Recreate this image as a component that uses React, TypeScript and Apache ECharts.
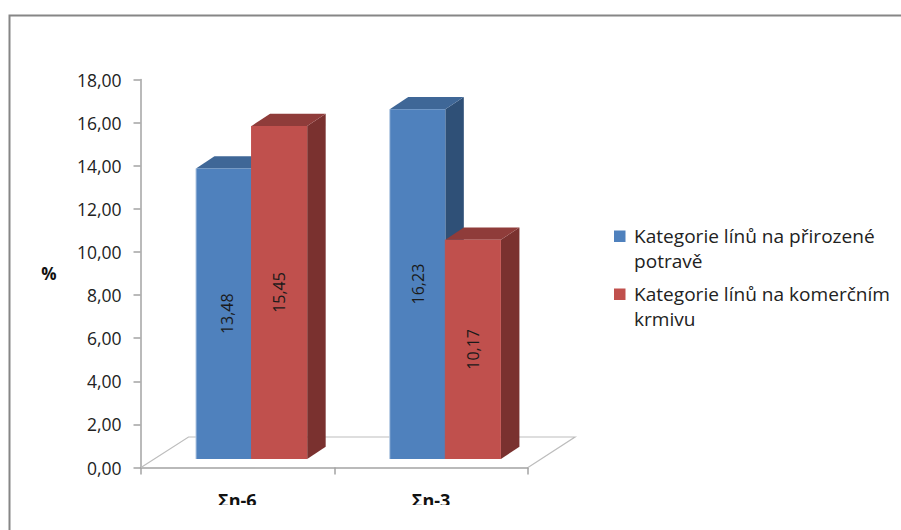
import React, { useEffect, useRef } from "react";
import * as echarts from "echarts";

const categories = ["Σn-6", "Σn-3"];
const seriesNames = ["Kategorie línů na přirozené potravě", "Kategorie línů na komerčním krmivu"];
const naturalFeed = [13.48, 16.23];
const commercialFeed = [15.45, 10.17];
const yTicks = { min: 0, max: 18, interval: 2 };

const FONT = "'Open Sans'";

const palette = [
  { front: "#4F81BD", top: "#3F6797", side: "#2F5077", edge: "#B9CDE5" },
  { front: "#C0504D", top: "#8F3C3A", side: "#7A312F", edge: "#C0504D" },
];

const legendRows = [
  { series: 0, lines: ["Kategorie línů na přirozené", "potravě"], y: 236 },
  { series: 1, lines: ["Kategorie línů na komerčním", "krmivu"], y: 294 },
];

const comma = (v: number) => v.toFixed(2).replace(".", ",");

// Extruded column: the front face sits above and to the right of the axis plane.
const column = (seriesIndex: number) => (params: any, api: any) => {
  const p = api.coord([api.value(0), api.value(1)]);
  const w = 55.6;
  const x0 = p[0] + 14.2 - w + seriesIndex * w;
  const x1 = x0 + w;
  const lift = 8.5;
  const top = p[1] - lift;
  const base = api.coord([api.value(0), 0])[1] - lift;
  const dx = 18.5;
  const dy = 12.2;
  const c = palette[seriesIndex];
  // The first column's label sits a little right of its face centre.
  const labelNudge = seriesIndex === 0 && params.dataIndex === 0 ? 3.5 : 0;
  return {
    type: "group",
    children: [
      {
        type: "polygon",
        shape: { points: [[x1, base], [x1 + dx, base - dy], [x1 + dx, top - dy], [x1, top]] },
        style: { fill: c.side },
      },
      {
        type: "polygon",
        shape: { points: [[x0, top], [x0 + dx, top - dy], [x1 + dx, top - dy], [x1, top]] },
        style: { fill: c.top },
      },
      {
        type: "rect",
        shape: { x: x0, y: top, width: w, height: base - top },
        style: { fill: c.front },
      },
      {
        type: "line",
        shape: { x1: x0, y1: top, x2: x0, y2: base },
        style: { stroke: c.edge, lineWidth: 1 },
      },
      {
        type: "text",
        x: (x0 + x1) / 2 + labelNudge,
        y: (top + base) / 2,
        rotation: Math.PI / 2,
        style: {
          text: comma(api.value(1)),
          align: "center",
          verticalAlign: "middle",
          fill: "#1a1a1a",
          font: `16px ${FONT}`,
        },
      },
    ],
  };
};

const toPoints = (values: number[]) => values.map((v, i) => [i, v]);

export default function App() {
  const ref = useRef<HTMLDivElement>(null);

  useEffect(() => {
    const chart = echarts.init(ref.current!, undefined, { renderer: "svg" });
    const axisGrey = "#A3A3A3";
    const legendGraphics = legendRows.flatMap((row) => [
      {
        type: "rect",
        z: 5,
        shape: { x: 614, y: row.y - 5.5, width: 11.5, height: 11.5 },
        style: { fill: palette[row.series].front },
      },
      ...row.lines.map((line, i) => ({
        type: "text",
        z: 5,
        x: 634,
        y: row.y + i * 24.5,
        scaleX: 1.09,
        style: {
          text: line,
          fill: "#222222",
          font: `17.5px ${FONT}`,
          verticalAlign: "middle",
        },
      })),
    ]);

    chart.setOption({
      animation: false,
      backgroundColor: "#ffffff",
      grid: { left: 140.5, width: 387.5, top: 79.5, height: 388 },
      xAxis: {
        type: "category",
        data: categories,
        axisLine: { lineStyle: { color: axisGrey, width: 1.5 } },
        axisTick: { show: true, length: 7, alignWithLabel: false, lineStyle: { color: axisGrey, width: 1.5 } },
        axisLabel: {
          color: "#111111",
          fontFamily: FONT,
          fontSize: 18,
          fontWeight: "bold",
          margin: 23,
        },
      },
      yAxis: {
        type: "value",
        min: yTicks.min,
        max: yTicks.max,
        interval: yTicks.interval,
        name: "%",
        nameLocation: "middle",
        nameRotate: 0,
        nameGap: 84,
        nameTextStyle: { color: "#111111", fontFamily: FONT, fontSize: 17, fontWeight: "bold", padding: [2, 0, 0, 0] },
        splitLine: { show: false },
        axisLine: { show: true, lineStyle: { color: axisGrey, width: 1.5 } },
        axisTick: { show: true, length: 7, lineStyle: { color: axisGrey, width: 1.5 } },
        axisLabel: {
          color: "#222222",
          fontFamily: FONT,
          fontSize: 17.5,
          margin: 19,
          formatter: (v: number) => comma(v),
        },
      },
      series: [naturalFeed, commercialFeed].map((values, i) => ({
        type: "custom",
        name: seriesNames[i],
        z: 3 + i,
        renderItem: column(i),
        encode: { x: 0, y: 1 },
        data: toPoints(values),
      })),
      graphic: [
        {
          type: "polyline",
          z: 1,
          shape: { points: [[141, 467.5], [188.5, 437], [575, 437], [528, 467.5]] },
          style: { fill: "none", stroke: "#BDBDBD", lineWidth: 1.2 },
        },
        ...legendGraphics,
        // White band that trims the lower part of the category labels.
        { type: "rect", z: 50, shape: { x: 0, y: 505, width: 901, height: 25 }, style: { fill: "#ffffff" } },
        {
          type: "polyline",
          z: 60,
          shape: { points: [[9.5, 530], [9.5, 15.5], [901, 15.5]] },
          style: { fill: "none", stroke: "#868686", lineWidth: 2 },
        },
      ],
    });
    return () => chart.dispose();
  }, []);

  return <div ref={ref} style={{ position: "absolute", left: 0, top: 0, width: 901, height: 530 }} />;
}
